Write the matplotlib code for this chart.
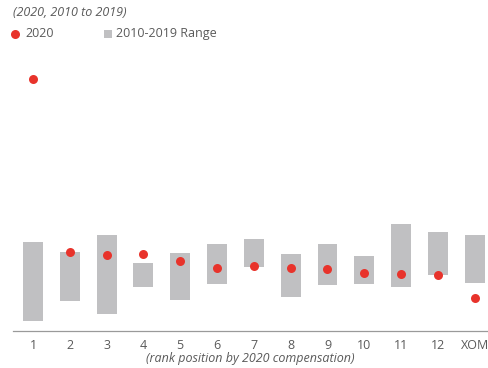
import matplotlib
matplotlib.use('Agg')
import matplotlib.pyplot as plt

ranks = ['1', '2', '3', '4', '5', '6', '7', '8', '9', '10', '11', '12', 'XOM']
pay_2020 = [25.2, 7.9, 7.6, 7.7, 7.0, 6.3, 6.5, 6.3, 6.2, 5.8, 5.7, 5.6, 3.3]
range_low = [1.0, 3.0, 1.7, 4.4, 3.1, 4.7, 6.4, 3.4, 4.6, 4.7, 4.4, 5.6, 4.8]
range_high = [8.9, 7.9, 9.6, 6.8, 7.8, 8.7, 9.2, 7.7, 8.7, 7.5, 10.7, 9.9, 9.6]

plt.rcParams['font.family'] = ['Open Sans', 'DejaVu Sans']
txt = '#5a5a5a'
red = '#e8332b'
grey = '#c0c0c2'
fs = 9

fig = plt.figure(figsize=(4.88, 3.68), dpi=100)
ax = fig.add_axes([0.0266, 0.1005, 0.9734, 0.7364])

x = list(range(len(ranks)))
heights = [h - l for h, l in zip(range_high, range_low)]
ax.bar(x, heights, bottom=range_low, width=0.54, color=grey, zorder=1)
ax.scatter(x, pay_2020, s=42, color=red, zorder=3, linewidths=0)

ax.set_xlim(-0.543, 12.36)
ax.set_ylim(0, 27.1)
ax.set_yticks([])
for s in ['top', 'right', 'left']:
    ax.spines[s].set_visible(False)
ax.spines['bottom'].set_color('#9a9a9a')
ax.spines['bottom'].set_linewidth(0.9)
ax.set_xticks(x)
ax.set_xticklabels(ranks)
ax.tick_params(axis='x', length=0, pad=6, labelsize=fs, labelcolor=txt)
ax.set_xlabel('(rank position by 2020 compensation)', style='italic',
              fontsize=fs, color=txt, labelpad=0)

fig.text(0.027, 0.966, '(2020, 2010 to 2019)', style='italic', fontsize=fs,
         color=txt, va='center')

# legend drawn by hand along the top
fig.lines.append(plt.Line2D([0.031], [0.908], marker='o', ms=6.5, color=red,
                            mew=0, transform=fig.transFigure))
fig.text(0.053, 0.908, '2020', fontsize=fs, color=txt, va='center')
fig.lines.append(plt.Line2D([0.222], [0.908], marker='s', ms=6, color=grey,
                            mew=0, transform=fig.transFigure))
fig.text(0.237, 0.908, '2010-2019 Range', fontsize=fs, color=txt, va='center')

fig.savefig('out.png', dpi=100)
